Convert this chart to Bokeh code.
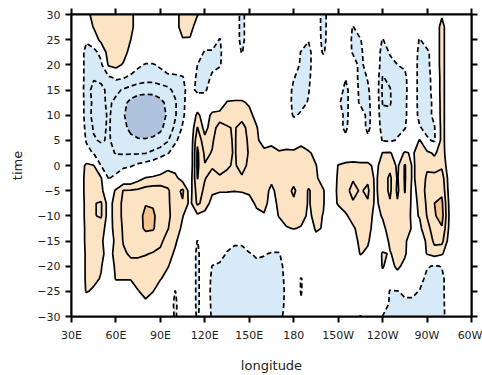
import numpy as np
from bokeh.plotting import figure
from bokeh.models import Range1d, FixedTicker, LinearAxis
from bokeh.embed import file_html
from bokeh.resources import INLINE

# ---------------- data ----------------
LONGITUDE = [30, 35, 40, 45, 50, 55, 60, 65, 70, 75, 80, 85, 90, 95, 100, 105, 110,
             115, 120, 125, 130, 135, 140, 145, 150, 155, 160, 165, 170, 175, 180,
             185, 190, 195, 200, 205, 210, 215, 220, 225, 230, 235, 240, 245, 250,
             255, 260, 265, 270, 275, 280, 285, 290, 295, 300]
TIME = [30, 27.5, 25, 22.5, 20, 17.5, 15, 12.5, 10, 7.5, 5, 2.5, 0,
        -2.5, -5, -7.5, -10, -12.5, -15, -17.5, -20, -22.5, -25, -27.5, -30]

# anomaly values per time row (longitude: value), zero elsewhere
ANOMALY_ROWS = [
    {45: 2, 50: 2, 55: 2, 60: 2, 65: 2, 70: 1.5, 105: 2, 110: 2, 115: 1.1, 145: -1.5, 200: -1.6, 280: 0.8},
    {45: 1.1, 50: 2, 55: 2, 60: 2, 65: 2, 70: 1.5, 105: 2, 110: 1.8, 145: -1.5, 200: -1.6, 220: -1.1, 280: 1.5},
    {40: -0.8, 50: 1.5, 55: 2, 60: 2, 65: 2, 70: 1, 105: 0.8, 110: 0.8, 130: -1.1, 145: -1.5, 190: -0.9,
     200: -1.5, 220: -1.3, 225: -1.1, 240: -1.1, 265: -1.1, 280: 1.5},
    {40: -1.5, 45: -1.5, 50: -0.5, 55: 1.8, 60: 2, 65: 1.8, 70: 0.3, 120: -1.2, 125: -1.2, 130: -1.3,
     145: -1.1, 185: -1.1, 190: -1.5, 200: -1.2, 220: -1.2, 225: -1.4, 240: -1.5, 245: -0.9, 265: -1.4,
     270: -1.4, 280: 1.5},
    {40: -1.5, 45: -1.8, 50: -1.3, 55: 1.2, 60: 1.6, 65: 0.8, 75: -0.8, 80: -1.1, 85: -1.1, 90: -0.8,
     115: -1, 120: -1.5, 125: -1.3, 130: -1.2, 185: -1.3, 190: -1.5, 225: -1.6, 240: -1.6, 245: -1.3,
     250: -1.0, 255: -0.8, 265: -1.5, 270: -1.5, 280: 1.5},
    {40: -1.5, 45: -1.9, 50: -1.8, 55: -1.2, 60: -0.8, 65: -0.9, 70: -1.3, 75: -1.5, 80: -1.6, 85: -1.6,
     90: -1.5, 95: -1.4, 100: -1.3, 105: -1.1, 115: -1.3, 120: -1.5, 125: -0.8, 180: -0.9, 185: -1.6,
     190: -1.3, 215: -0.9, 225: -1.6, 230: -0.9, 240: -2.05, 245: -1.8, 250: -1.6, 255: -1.3, 265: -1.5,
     270: -1.6, 275: -0.3, 280: 1.5},
    {40: -1.6, 45: -2.3, 50: -2.2, 55: -1.8, 60: -1.8, 65: -2.1, 70: -2.3, 75: -2.5, 80: -2.6, 85: -2.6,
     90: -2.4, 95: -2.2, 100: -1.8, 105: -1.3, 110: -0.5, 115: -1.3, 120: -1.3, 180: -1.4, 185: -1.5,
     190: -1.1, 215: -1.5, 225: -1.4, 230: -1.2, 240: -2.2, 245: -2.05, 250: -1.5, 255: -1.4, 265: -1.5,
     270: -1.7, 275: -0.3, 280: 1.5},
    {40: -1.5, 45: -2.2, 50: -2.2, 55: -1.85, 60: -2.2, 65: -2.7, 70: -3.3, 75: -3.7, 80: -3.8, 85: -3.7,
     90: -3.3, 95: -2.7, 100: -2.1, 105: -1.3, 110: -0.3, 135: 1.1, 140: 1.2, 145: 1.2, 150: 0.8,
     180: -1.5, 185: -1.4, 190: -0.9, 210: -0.8, 215: -1.5, 225: -1.3, 230: -1.4, 240: -2.05, 245: -2.05,
     250: -1.6, 255: -1.3, 265: -1.5, 270: -1.8, 275: -0.5, 280: 1.5},
    {40: -1.5, 45: -2.3, 50: -2.3, 55: -1.9, 60: -2.3, 65: -2.9, 70: -3.5, 75: -4, 80: -4.2, 85: -4,
     90: -3.6, 95: -2.8, 100: -2.1, 105: -1.2, 110: -0.3, 115: 1.3, 120: 0.3, 125: 1.3, 130: 1.5,
     135: 1.5, 140: 1.6, 145: 1.6, 150: 1.4, 155: 0.5, 180: -1.2, 185: -0.8, 215: -1.5, 230: -1.5,
     240: -1.8, 245: -1.9, 250: -1.5, 255: -1.3, 265: -1.4, 270: -1.6, 275: -0.6, 280: 1.5},
    {40: -1.3, 45: -2.1, 50: -2.2, 55: -1.9, 60: -2.4, 65: -2.8, 70: -3.2, 75: -3.5, 80: -3.6, 85: -3.5,
     90: -3.2, 95: -2.6, 100: -1.8, 105: -0.9, 115: 2.05, 120: 0.6, 125: 1.6, 130: 2.4, 135: 2.1,
     140: 1.9, 145: 2.4, 150: 1.6, 155: 1.1, 210: -0.5, 215: -1.3, 230: -1.4, 240: -1.5, 245: -1.6,
     250: -1.3, 255: -1.1, 265: -0.9, 270: -1.4, 275: -1.1, 280: 1.5},
    {40: -1.1, 45: -1.9, 50: -2.1, 55: -1.9, 60: -2.3, 65: -2.6, 70: -2.8, 75: -2.9, 80: -2.9, 85: -2.8,
     90: -2.6, 95: -2.1, 100: -1.2, 105: -0.5, 115: 2.8, 120: 1.3, 125: 1.9, 130: 2.5, 135: 2.2,
     140: 1.9, 145: 2.5, 150: 1.8, 155: 1.2, 160: 0.5, 165: 0.6, 185: 0.6, 215: -0.6, 230: -0.6,
     240: -1.1, 245: -1.2, 250: -0.9, 265: 1.1, 270: -0.8, 275: -1.2, 280: 1.5},
    {40: -0.6, 45: -1.1, 50: -1.6, 55: -1.8, 60: -2.05, 65: -2.1, 70: -2.1, 75: -2.1, 80: -2.05,
     85: -1.8, 90: -1.5, 95: -1.1, 100: -0.4, 115: 3.2, 120: 1.8, 125: 2.05, 130: 2.5, 135: 2.3,
     140: 1.9, 145: 2.5, 150: 1.9, 155: 1.4, 160: 1.3, 165: 1.5, 170: 1.2, 175: 1.4, 180: 1.3, 185: 1.5,
     190: 1.2, 195: 0.6, 240: 1.05, 245: 1.1, 250: 0.5, 255: 1.1, 260: 0.9, 265: 1.3, 270: 1.3,
     275: 0.8, 280: 1.6},
    {40: 1.3, 45: 1.05, 50: -1.05, 55: -1.4, 60: -1.4, 65: -1.3, 70: -1.1, 75: -0.8, 80: -0.6, 85: -0.4,
     95: 0.6, 100: 0.5, 115: 3.2, 120: 2.05, 125: 2.1, 130: 2.3, 135: 2.1, 140: 1.9, 145: 2.3, 150: 1.8,
     155: 1.5, 160: 1.6, 165: 1.5, 170: 1.6, 175: 1.6, 180: 1.7, 185: 1.6, 190: 1.4, 195: 1.05, 200: 0.3,
     210: 1.05, 215: 1.3, 220: 1.4, 225: 1.3, 230: 1.3, 235: 0.7, 240: 1.4, 245: 1.7, 250: 0.8, 255: 2.1,
     260: 0.9, 265: 1.2, 270: 1.8, 275: 1.6, 280: 1.8, 285: 0.3},
    {40: 1.5, 45: 1.6, 50: 1.1, 55: -1.05, 60: -0.8, 75: 0.6, 80: 1.05, 85: 1.2, 90: 1.4, 95: 1.6,
     100: 1.3, 105: 0.5, 110: 0.3, 115: 3.05, 120: 2.05, 125: 1.7, 130: 1.9, 135: 1.8, 140: 1.7,
     145: 1.9, 150: 1.6, 155: 1.3, 160: 1.4, 165: 1.3, 170: 1.5, 175: 1.7, 180: 1.8, 185: 1.6, 190: 1.5,
     195: 1.2, 200: 0.4, 210: 1.2, 215: 1.6, 220: 1.9, 225: 1.95, 230: 1.8, 235: 0.8, 240: 1.5,
     245: 2.2, 250: 0.9, 255: 2.1, 260: 0.9, 265: 1.2, 270: 2.2, 275: 2.3, 280: 2.5, 285: 0.5},
    {40: 1.5, 45: 1.8, 50: 1.3, 60: 1.2, 65: 2.05, 70: 2.1, 75: 2.2, 80: 2.4, 85: 2.5, 90: 2.4,
     95: 2.1, 100: 1.6, 105: 2.2, 110: 0.5, 115: 2.5, 120: 1.8, 125: 1.2, 130: 1.1, 135: 1.1, 140: 1.05,
     145: 1.1, 150: 1.2, 155: 1.3, 160: 1.5, 165: 0.7, 170: 1.5, 175: 1.8, 180: 2.1, 185: 1.7, 190: 0.9,
     195: 1.4, 200: 1.1, 210: 1.3, 215: 1.7, 220: 2.3, 225: 1.9, 230: 2.2, 235: 0.8, 240: 1.5, 245: 2.2,
     250: 0.8, 255: 2.05, 260: 0.8, 265: 1.2, 270: 2.4, 275: 2.9, 280: 2.8, 285: 0.6},
    {40: 1.4, 45: 1.95, 50: 2.1, 55: 0.5, 60: 1.5, 65: 2.2, 70: 2.5, 75: 2.7, 80: 2.95, 85: 2.9,
     90: 2.6, 95: 2.1, 100: 1.7, 105: 1.9, 110: 0.7, 115: 2.2, 120: 1.6, 125: 0.6, 130: 0.3, 135: 0.2,
     140: 0.2, 145: 0.3, 150: 0.6, 155: 1.2, 160: 1.3, 165: 0.6, 170: 1.2, 175: 1.6, 180: 1.9, 185: 1.6,
     190: 0.9, 195: 1.4, 200: 1.1, 210: 1.2, 215: 1.6, 220: 1.9, 225: 1.8, 230: 1.9, 235: 0.8, 240: 1.3,
     245: 1.9, 250: 1.1, 255: 1.8, 260: 0.8, 265: 1.1, 270: 2.2, 275: 3.0, 280: 3.2, 285: 0.8},
    {40: 1.4, 45: 1.95, 50: 2.1, 55: 0.5, 60: 1.5, 65: 2.2, 70: 2.6, 75: 2.7, 80: 3.2, 85: 3.15,
     90: 2.6, 95: 2.2, 100: 1.6, 105: 1.05, 110: 0.4, 115: 0.8, 120: 0.6, 155: 0.7, 160: 0.9, 170: 1.1,
     175: 1.5, 180: 1.6, 185: 1.4, 190: 0.8, 195: 1.3, 200: 0.95, 215: 0.8, 220: 1.5, 225: 1.7, 230: 1.6,
     235: 0.6, 240: 1.1, 245: 1.8, 250: 1.7, 255: 1.6, 260: 0.8, 265: 1.05, 270: 2.05, 275: 2.9,
     280: 3.4, 285: 0.9},
    {40: 1.3, 45: 1.8, 50: 1.5, 55: 0.4, 60: 1.5, 65: 2.1, 70: 2.5, 75: 2.7, 80: 3.15, 85: 3.1,
     90: 2.5, 95: 2.05, 100: 1.5, 105: 0.8, 175: 0.9, 180: 1.05, 185: 0.9, 195: 1.2, 200: 0.9, 220: 0.8,
     225: 1.5, 230: 1.4, 235: 0.5, 240: 0.7, 245: 1.5, 250: 1.7, 255: 1.5, 260: 0.9, 265: 0.8, 270: 1.6,
     275: 2.6, 280: 2.9, 285: 0.8},
    {40: 1.3, 45: 1.5, 50: 1.3, 60: 1.4, 65: 2.05, 70: 2.3, 75: 2.5, 80: 2.5, 85: 2.4, 90: 2.2,
     95: 1.6, 100: 1.2, 105: 0.3, 115: -1.05, 140: -0.7, 145: -0.7, 195: 0.5, 220: 0.3, 225: 1.4,
     230: 1.2, 245: 1.3, 250: 1.6, 255: 1.3, 270: 1.3, 275: 2.2, 280: 2.3, 285: 0.5},
    {40: 1.2, 45: 1.5, 50: 1.3, 55: 0.5, 60: 1.4, 65: 1.9, 70: 2.1, 75: 2.1, 80: 2.05, 85: 1.95,
     90: 1.8, 95: 1.5, 100: 0.8, 115: -1.3, 135: -1.2, 140: -1.5, 145: -1.5, 150: -1.1, 155: -0.8,
     160: -0.9, 165: -1.1, 170: -1.1, 175: -0.3, 225: 1.1, 230: 0.7, 240: 1.15, 245: 0.9, 250: 1.5,
     255: 1.2, 270: 1.1, 275: 1.6, 280: 1.2},
    {40: 1.2, 45: 1.4, 50: 1.1, 60: 1.3, 65: 1.6, 70: 1.8, 75: 1.8, 80: 1.7, 85: 1.7, 90: 1.5,
     95: 1.1, 100: 0.3, 115: -1.3, 125: -1.05, 130: -1.4, 135: -1.7, 140: -1.8, 145: -1.8, 150: -1.7,
     155: -1.3, 160: -1.4, 165: -1.6, 170: -1.4, 175: -0.6, 240: 1.1, 245: 0.5, 250: 1.3, 255: 0.6,
     270: -0.9, 275: -1.1, 280: -0.95},
    {40: 1.2, 45: 1.3, 50: 0.9, 60: 1.1, 65: 1.1, 70: 1.1, 75: 1.4, 80: 1.5, 85: 1.4, 90: 1.1,
     95: 0.4, 115: -1.3, 125: -1.3, 130: -1.6, 135: -1.8, 140: -1.8, 145: -1.8, 150: -1.8, 155: -1.7,
     160: -1.7, 165: -1.7, 170: -1.5, 175: -0.7, 185: -1.1, 240: 0.6, 250: 0.3, 265: -0.6, 270: -1.3,
     275: -1.4, 280: -1.3, 285: -0.3},
    {40: 1.1, 45: 0.8, 75: 0.95, 80: 1.3, 85: 1.05, 100: -1.05, 115: -1.3, 125: -1.4, 130: -1.7,
     135: -1.8, 140: -1.8, 145: -1.9, 150: -1.8, 155: -1.7, 160: -1.6, 165: -1.6, 170: -1.5, 175: -0.8,
     185: -1.1, 245: -1.1, 250: -1.05, 255: -0.8, 260: -0.8, 265: -1.05, 270: -1.4, 275: -1.5,
     280: -1.3, 285: -0.3},
    {80: 0.8, 100: -1.3, 115: -1.3, 125: -1.3, 130: -1.6, 135: -1.7, 140: -1.7, 145: -1.7, 150: -1.6,
     155: -1.5, 160: -1.5, 165: -1.5, 170: -1.4, 175: -0.8, 185: -0.8, 245: -1.2, 250: -1.3, 255: -1.2,
     260: -1.2, 265: -1.3, 270: -1.4, 275: -1.5, 280: -1.3, 285: -0.4},
    {100: -1.2, 115: -1.2, 125: -1.2, 130: -1.5, 135: -1.6, 140: -1.6, 145: -1.6, 150: -1.5,
     155: -1.5, 160: -1.5, 165: -1.4, 170: -1.3, 175: -0.7, 225: -1.1, 240: -1.05, 245: -1.2,
     250: -1.3, 255: -1.3, 260: -1.3, 265: -1.3, 270: -1.4, 275: -1.4, 280: -1.3, 285: -0.5},
]

LON_TICKS = [30, 60, 90, 120, 150, 180, 210, 240, 270, 300]
LON_LABELS = ["30E", "60E", "90E", "120E", "150E", "180", "150W", "120W", "90W", "60W"]
TIME_TICKS = [-30, -25, -20, -15, -10, -5, 0, 5, 10, 15, 20, 25, 30]

FILL_LEVELS = [-10, -3, -1, 1, 3, 10]
FILL_COLORS = ["#AFC3DF", "#D6EAF8", "#FFFFFF", "#FCE3C4", "#F6C490"]
NEG_LEVELS = [-3, -2, -1]
POS_LEVELS = [1, 2, 3]

# ---------------- grid ----------------
lon_index = {lon: i for i, lon in enumerate(LONGITUDE)}
Z = np.zeros((len(TIME), len(LONGITUDE)))
for r, row in enumerate(ANOMALY_ROWS):
    for lon, v in row.items():
        Z[r, lon_index[lon]] = v
# ascending time for the contour generator
Z = Z[::-1]
t_asc = np.array(TIME[::-1], dtype=float)
X, Y = np.meshgrid(np.array(LONGITUDE, dtype=float), t_asc)

# ---------------- figure ----------------
FONT = "DejaVu Sans"
p = figure(width=482, height=375, x_range=Range1d(30, 300), y_range=Range1d(-30, 30),
           output_backend="svg", toolbar_location=None,
           min_border_left=71, min_border_right=11, min_border_top=14, min_border_bottom=59)
p.grid.visible = False
p.background_fill_color = "white"
p.border_fill_color = "white"
p.outline_line_color = "black"
p.outline_line_width = 2

p.contour(X, Y, Z, levels=FILL_LEVELS, fill_color=FILL_COLORS, line_color=None)
p.contour(X, Y, Z, levels=NEG_LEVELS, fill_color=None, line_color="black",
          line_width=1.7, line_dash="5 3")
p.contour(X, Y, Z, levels=POS_LEVELS, fill_color=None, line_color="black", line_width=1.7)


def style_axis(ax, tick_out=6):
    ax.major_tick_out = tick_out
    ax.major_tick_in = 0
    ax.minor_tick_out = 0
    ax.minor_tick_in = 0
    ax.axis_line_width = 2
    ax.major_tick_line_width = 2
    ax.axis_line_color = "black"
    ax.major_tick_line_color = "black"


xa = p.xaxis[0]
xa.ticker = FixedTicker(ticks=LON_TICKS)
xa.major_label_overrides = {t: lab for t, lab in zip(LON_TICKS, LON_LABELS)}
style_axis(xa)
xa.major_label_standoff = 6
xa.major_label_text_font = FONT
xa.major_label_text_font_size = "11px"
xa.major_label_text_color = "#222222"
xa.axis_label = "longitude"
xa.axis_label_text_font = FONT
xa.axis_label_text_font_size = "13px"
xa.axis_label_text_font_style = "normal"
xa.axis_label_text_color = "#222222"
xa.axis_label_standoff = 13

ya = p.yaxis[0]
ya.ticker = FixedTicker(ticks=TIME_TICKS)
style_axis(ya)
ya.major_label_standoff = 5
ya.major_label_text_font = FONT
ya.major_label_text_font_size = "11px"
ya.major_label_text_color = "#222222"
ya.axis_label = "time"
ya.axis_label_text_font = FONT
ya.axis_label_text_font_size = "13px"
ya.axis_label_text_font_style = "normal"
ya.axis_label_text_color = "#222222"
ya.axis_label_standoff = 9

top = LinearAxis(ticker=FixedTicker(ticks=LON_TICKS),
                 major_label_overrides={t: "" for t in LON_TICKS},
                 major_label_text_font_size="0px", major_label_standoff=0)
style_axis(top, 6)
p.add_layout(top, "above")

right = LinearAxis(ticker=FixedTicker(ticks=TIME_TICKS),
                   major_label_overrides={t: "" for t in TIME_TICKS},
                   major_label_text_font_size="0px", major_label_standoff=0)
style_axis(right, 6)
p.add_layout(right, "right")

open("out.html", "w").write(file_html(p, INLINE))
